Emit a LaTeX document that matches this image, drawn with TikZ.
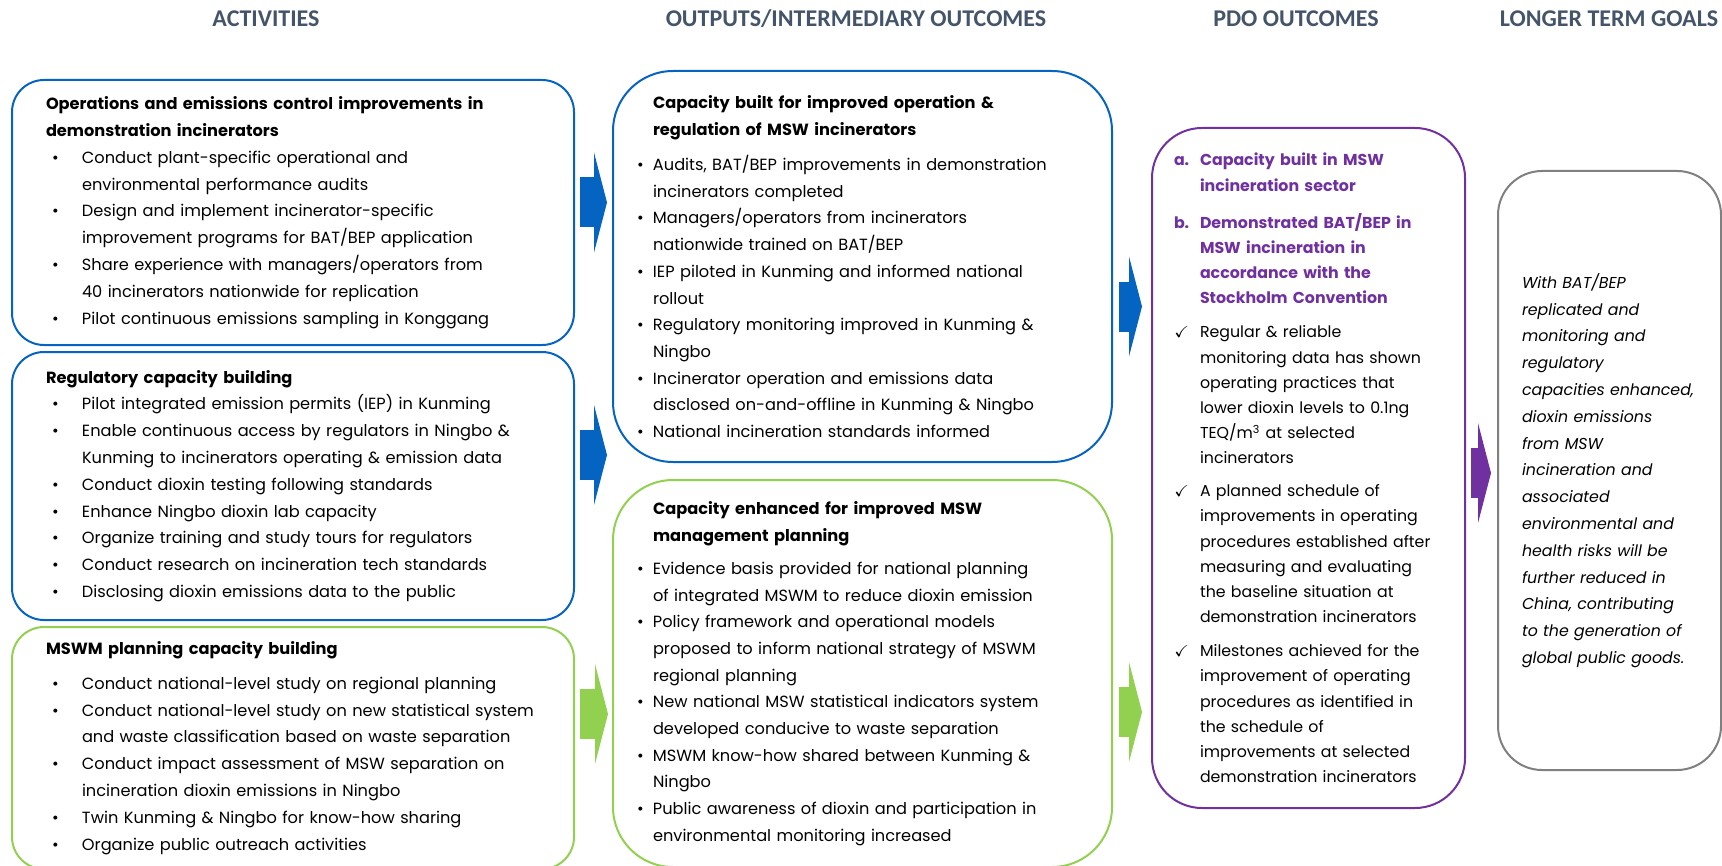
\documentclass[tikz,border=0pt]{standalone}
\usepackage{amssymb}
\usepackage{fontspec}
\setmainfont{Poppins}
\newfontfamily\headfont{Carlito}
\usetikzlibrary{arrows.meta,positioning}

\definecolor{OutBlue}{RGB}{5,99,193}
\definecolor{OutGreen}{RGB}{146,208,80}
\definecolor{PdoPurple}{RGB}{112,48,160}
\definecolor{GoalGray}{RGB}{128,128,128}
\definecolor{HeadSlate}{RGB}{68,84,106}

% bullets for the activity and output boxes
\newcommand{\actbul}{\hspace*{3pt}\makebox[15pt][l]{\textbullet}}
\newcommand{\actind}{\hspace*{18pt}}
\newcommand{\outbul}{\leavevmode\llap{\makebox[8pt][l]{\textbullet}}}
\newcommand{\pdoitem}[1]{\makebox[13pt][l]{#1}}
\newcommand{\pdoind}{\hspace*{13pt}}

\begin{document}
\begin{tikzpicture}[x=1pt, y=1pt,
basebox/.style={draw,line width=1pt,fill=white,align=left,inner ysep=0pt,anchor=north west},
actbox/.style={basebox,rounded corners=16pt,inner xsep=17pt,text width=247pt,font=\fontsize{8.1}{13.4}\selectfont},
outbox/.style={basebox,rounded corners=30pt,inner xsep=20pt,text width=209.5pt,font=\fontsize{8.1}{13.35}\selectfont},
pdobox/.style={basebox,draw=PdoPurple,rounded corners=25pt,inner xsep=11pt,text width=134.5pt,font=\fontsize{7.9}{12.6}\selectfont},
goalbox/.style={basebox,draw=GoalGray,rounded corners=22pt,inner xsep=12pt,text width=87.5pt,font=\fontsize{7.9}{13.4}\selectfont\itshape},
head/.style={text=HeadSlate,font=\headfont\bfseries\fontsize{12}{14}\selectfont},
blockarrow/.style={line width=25pt,-{Triangle[length=6.5pt,width=50pt,line width=0pt]}}]
\useasboundingbox (0,0) rectangle (861,-433);

% column headings
\node[head] (hact) at (133,-9.5) {ACTIVITIES};
\node[head] (hout) at (428,-9.5) {OUTPUTS/INTERMEDIARY OUTCOMES};
\node[head] (hpdo) at (648,-9.5) {PDO OUTCOMES};
\node[head] (hgoal) at (804.5,-9.5) {LONGER TERM GOALS};

% activities
\node[actbox,draw=OutBlue,minimum height=132.5pt] (opsact) at (5.5,-39.5) {%
{\bfseries Operations and emissions control improvements in}\\
{\bfseries demonstration incinerators}\\
\actbul Conduct plant-specific operational and\\
\actind environmental performance audits\\
\actbul Design and implement incinerator-specific\\
\actind improvement programs for BAT/BEP application\\
\actbul Share experience with managers/operators from\\
\actind 40 incinerators nationwide for replication\\
\actbul Pilot continuous emissions sampling in Konggang};

\node[actbox,draw=OutBlue,minimum height=134pt,below=2.5pt of opsact] (regact) {%
{\bfseries Regulatory capacity building}\\
\actbul Pilot integrated emission permits (IEP) in Kunming\\
\actbul Enable continuous access by regulators in Ningbo \&\\
\actind Kunming to incinerators operating \& emission data\\
\actbul Conduct dioxin testing following standards\\
\actbul Enhance Ningbo dioxin lab capacity\\
\actbul Organize training and study tours for regulators\\
\actbul Conduct research on incineration tech standards\\
\actbul Disclosing dioxin emissions data to the public};

\node[actbox,draw=OutGreen,minimum height=121pt,below=2.5pt of regact] (mswact) {%
{\bfseries MSWM planning capacity building}\\[4pt]
\actbul Conduct national-level study on regional planning\\
\actbul Conduct national-level study on new statistical system\\
\actind and waste classification based on waste separation\\
\actbul Conduct impact assessment of MSW separation on\\
\actind incineration dioxin emissions in Ningbo\\
\actbul Twin Kunming \& Ningbo for know-how sharing\\
\actbul Organize public outreach activities};

% outputs
\node[outbox,draw=OutBlue,minimum height=195.5pt] (capbuilt) at (306,-35) {%
{\bfseries Capacity built for improved operation \&}\\
{\bfseries regulation of MSW incinerators}\\[4.4pt]
\outbul Audits, BAT/BEP improvements in demonstration\\
incinerators completed\\
\outbul Managers/operators from incinerators\\
nationwide trained on BAT/BEP\\
\outbul IEP piloted in Kunming and informed national\\
rollout\\
\outbul Regulatory monitoring improved in Kunming \&\\
Ningbo\\
\outbul Incinerator operation and emissions data\\
disclosed on-and-offline in Kunming \& Ningbo\\
\outbul National incineration standards informed};

\node[outbox,draw=OutGreen,minimum height=193.5pt,below=8pt of capbuilt] (capplan) {%
{\bfseries Capacity enhanced for improved MSW}\\
{\bfseries management planning}\\[3.3pt]
\outbul Evidence basis provided for national planning\\
of integrated MSWM to reduce dioxin emission\\
\outbul Policy framework and operational models\\
proposed to inform national strategy of MSWM\\
regional planning\\
\outbul New national MSW statistical indicators system\\
developed conducive to waste separation\\
\outbul MSWM know-how shared between Kunming \&\\
Ningbo\\
\outbul Public awareness of dioxin and participation in\\
environmental monitoring increased};

% PDO outcomes
\node[pdobox,minimum height=340pt] (pdo) at (575.5,-63.5) {%
{\color{PdoPurple}\bfseries\pdoitem{a.}Capacity built in MSW}\\
{\color{PdoPurple}\bfseries\pdoind incineration sector}\\[6pt]
{\color{PdoPurple}\bfseries\pdoitem{b.}Demonstrated BAT/BEP in}\\
{\color{PdoPurple}\bfseries\pdoind MSW incineration in}\\
{\color{PdoPurple}\bfseries\pdoind accordance with the}\\
{\color{PdoPurple}\bfseries\pdoind Stockholm Convention}\\[4.4pt]
\pdoitem{$\checkmark$}Regular \& reliable\\
\pdoind monitoring data has shown\\
\pdoind operating practices that\\
\pdoind lower dioxin levels to 0.1ng\\
\pdoind TEQ/m\textsuperscript{3} at selected\\
\pdoind incinerators\\[3.8pt]
\pdoitem{$\checkmark$}A planned schedule of\\
\pdoind improvements in operating\\
\pdoind procedures established after\\
\pdoind measuring and evaluating\\
\pdoind the baseline situation at\\
\pdoind demonstration incinerators\\[4.4pt]
\pdoitem{$\checkmark$}Milestones achieved for the\\
\pdoind improvement of operating\\
\pdoind procedures as identified in\\
\pdoind the schedule of\\
\pdoind improvements at selected\\
\pdoind demonstration incinerators};

% longer term goal
\node[goalbox,minimum height=299.5pt] (goal) at (748.5,-85) {%
With BAT/BEP\\
replicated and\\
monitoring and\\
regulatory\\
capacities enhanced,\\
dioxin emissions\\
from MSW\\
incineration and\\
associated\\
environmental and\\
health risks will be\\
further reduced in\\
China, contributing\\
to the generation of\\
global public goods.};

% block arrows between the columns
\draw[blockarrow,OutBlue,shorten <=2.5pt,shorten >=2.5pt] ([yshift=5pt]opsact.east) -- ([yshift=5pt]opsact.east -| capbuilt.west);
\draw[blockarrow,OutBlue,shorten <=2.5pt,shorten >=2.5pt] ([yshift=15.5pt]regact.east) -- ([yshift=15.5pt]regact.east -| capbuilt.west);
\draw[blockarrow,OutGreen,shorten <=2.5pt,shorten >=2pt] ([yshift=17pt]mswact.east) -- ([yshift=17pt]mswact.east -| capplan.west);
\draw[blockarrow,OutBlue,shorten <=3pt,shorten >=4.5pt] ([yshift=-20pt]capbuilt.east) -- ([yshift=-20pt]capbuilt.east -| pdo.west);
\draw[blockarrow,OutGreen,shorten <=3pt,shorten >=4.5pt] ([yshift=-19.25pt]capplan.east) -- ([yshift=-19.25pt]capplan.east -| pdo.west);
\draw[blockarrow,PdoPurple,shorten <=2.5pt,shorten >=3pt] ([yshift=-2.5pt]pdo.east) -- ([yshift=-2.5pt]pdo.east -| goal.west);
\end{tikzpicture}
\end{document}
